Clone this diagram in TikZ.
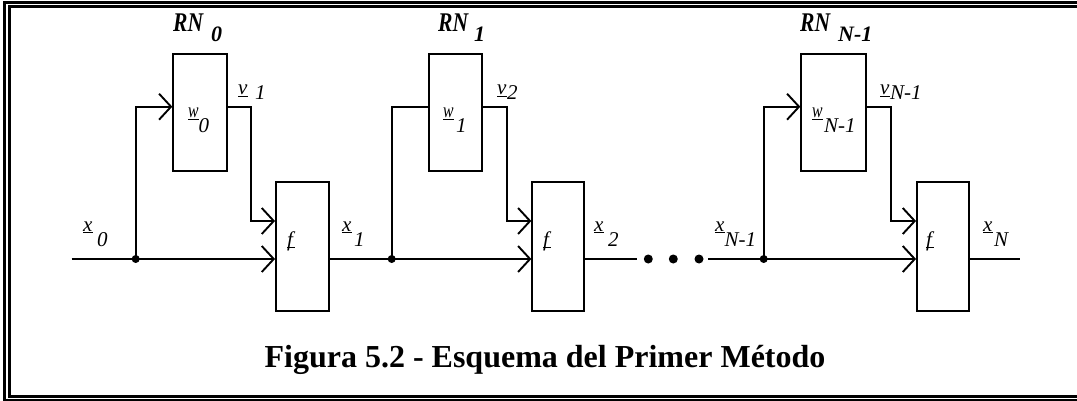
\documentclass[tikz,border=0pt]{standalone}
\usepackage{fontspec}
\setmainfont{Liberation Serif}
\usetikzlibrary{arrows.meta}
\newcommand\ulw[1]{\setbox0\hbox{#1}\rlap{\rule[-2pt]{\wd0}{1pt}}\box0}
\newcommand\lab[7]{\node[lbl] (#1) at (#2,#3) {\ulw{\textit{#4}}\kern#5pt\raisebox{-#6pt}{\textit{#7}}};}
\newcommand\ww{\scalebox{0.75}[1]{w}}
\tikzset{
  lbl/.style={anchor=base west, inner sep=0pt, font=\fontsize{21}{24}\selectfont},
  rn/.style={anchor=base west, inner sep=0pt, font=\fontsize{22}{26}\selectfont\bfseries\itshape},
  box/.style={draw, rectangle, line width=1.9pt, inner sep=0pt},
  jdot/.style={circle, fill, inner sep=0pt, minimum size=8pt},
  edot/.style={circle, fill, inner sep=0pt, minimum size=9pt},
  wire/.style={line width=1.9pt},
  arr/.style={wire, -{Straight Barb[length=12pt,width=26pt]}},
}
\newcommand\RN{{\fontsize{27}{30}\selectfont\scalebox{0.8}[1]{RN}}}
\begin{document}
\begin{tikzpicture}[x=1pt,y=-1pt]
\useasboundingbox (0,0) rectangle (1077,401);
\clip (0,0) rectangle (1077,401);
% frame
\draw[line width=3pt] (4.3,2.2) rectangle (1090,400.3);
\draw[line width=2.5pt] (9.4,6.3) rectangle (1085,396.5);
% boxes
\node[box, minimum width=53.4pt, minimum height=117pt] (w0) at (200,112.5) {};
\node[box, minimum width=53pt, minimum height=117pt] (w1) at (455.8,112.5) {};
\node[box, minimum width=64.7pt, minimum height=117pt] (w2) at (833.65,112.5) {};
\node[box, minimum width=53pt, minimum height=129pt] (f0) at (302.5,246.5) {};
\node[box, minimum width=52pt, minimum height=129pt] (f1) at (558.3,246.5) {};
\node[box, minimum width=51.7pt, minimum height=129pt] (f2) at (942.85,246.5) {};
% junctions and points
\coordinate (in0) at (71.7,259);
\node[jdot] (d0) at (135.7,259) {};
\node[jdot] (d1) at (391.7,259) {};
\node[jdot] (d2) at (763.7,259) {};
\coordinate (b0) at (135.7,106.7);
\coordinate (b1) at (391.7,106.7);
\coordinate (b2) at (763.7,106.7);
\coordinate (c0t) at (250.7,106.7);
\coordinate (c0b) at (250.7,221);
\coordinate (c1t) at (506.7,106.7);
\coordinate (c1b) at (506.7,221);
\coordinate (c2t) at (891,106.7);
\coordinate (c2b) at (891,221);
\coordinate (e1) at (636.7,259);
\coordinate (s2) at (708.3,259);
\coordinate (out) at (1020.3,259);
\node[edot] (el1) at (648.3,259) {};
\node[edot] (el2) at (673.3,259) {};
\node[edot] (el3) at (699,259) {};
% wires
\draw[arr] (in0) -- (f0.west |- in0);
\draw[arr] (f0.east |- in0) -- (f1.west |- in0);
\draw[wire] (f1.east |- in0) -- (e1);
\draw[arr] (s2) -- (f2.west |- s2);
\draw[wire] (f2.east |- s2) -- (out);
\draw[arr] (d0.center) -- (b0) -- (w0.west |- b0);
\draw[wire] (d1.center) -- (b1) -- (w1.west |- b1);
\draw[arr] (d2.center) -- (b2) -- (w2.west |- b2);
\draw[arr] (w0.east |- c0t) -- (c0t) -- (c0b) -- (f0.west |- c0b);
\draw[arr] (w1.east |- c1t) -- (c1t) -- (c1b) -- (f1.west |- c1b);
\draw[arr] (w2.east |- c2t) -- (c2t) -- (c2b) -- (f2.west |- c2b);
% labels
\lab{lx0}{83}{231}{x}{4.7}{15.5}{0}
\lab{lx1}{342}{231}{x}{2.7}{15.5}{1}
\lab{lx2}{594}{231}{x}{4.7}{15.5}{2}
\lab{lxn1}{715}{231}{x}{0}{15.5}{N-1}
\lab{lxn}{983}{231}{x}{1.7}{15.5}{N}
\lab{lv1}{238}{95}{v}{7.7}{5}{1}
\lab{lv2}{497}{95}{v}{0.7}{5}{2}
\lab{lvn1}{880}{95}{v}{0.7}{5}{N-1}
\lab{lw0}{188}{118}{\ww}{0}{15}{0}
\lab{lw1}{443}{118}{\ww}{2.5}{15}{1}
\lab{lwn1}{812}{118}{\ww}{1.5}{15}{N-1}
\node[lbl] (lf0) at (287,246) {\ulw{\textit{f}}};
\node[lbl] (lf1) at (543,246) {\ulw{\textit{f}}};
\node[lbl] (lf2) at (926,246) {\ulw{\textit{f}}};
\node[rn] (rn0) at (173,32) {\RN\kern8pt\raisebox{-10pt}{0}};
\node[rn] (rn1) at (438,32) {\RN\kern6pt\raisebox{-10pt}{1}};
\node[rn] (rn2) at (800,32) {\RN\kern8pt\raisebox{-10pt}{N-1}};
\node[anchor=base, inner sep=0pt, font=\fontsize{32}{36}\selectfont\bfseries] (cap) at (545,367.3) {Figura 5.2 - Esquema del Primer Método};
\end{tikzpicture}
\end{document}
